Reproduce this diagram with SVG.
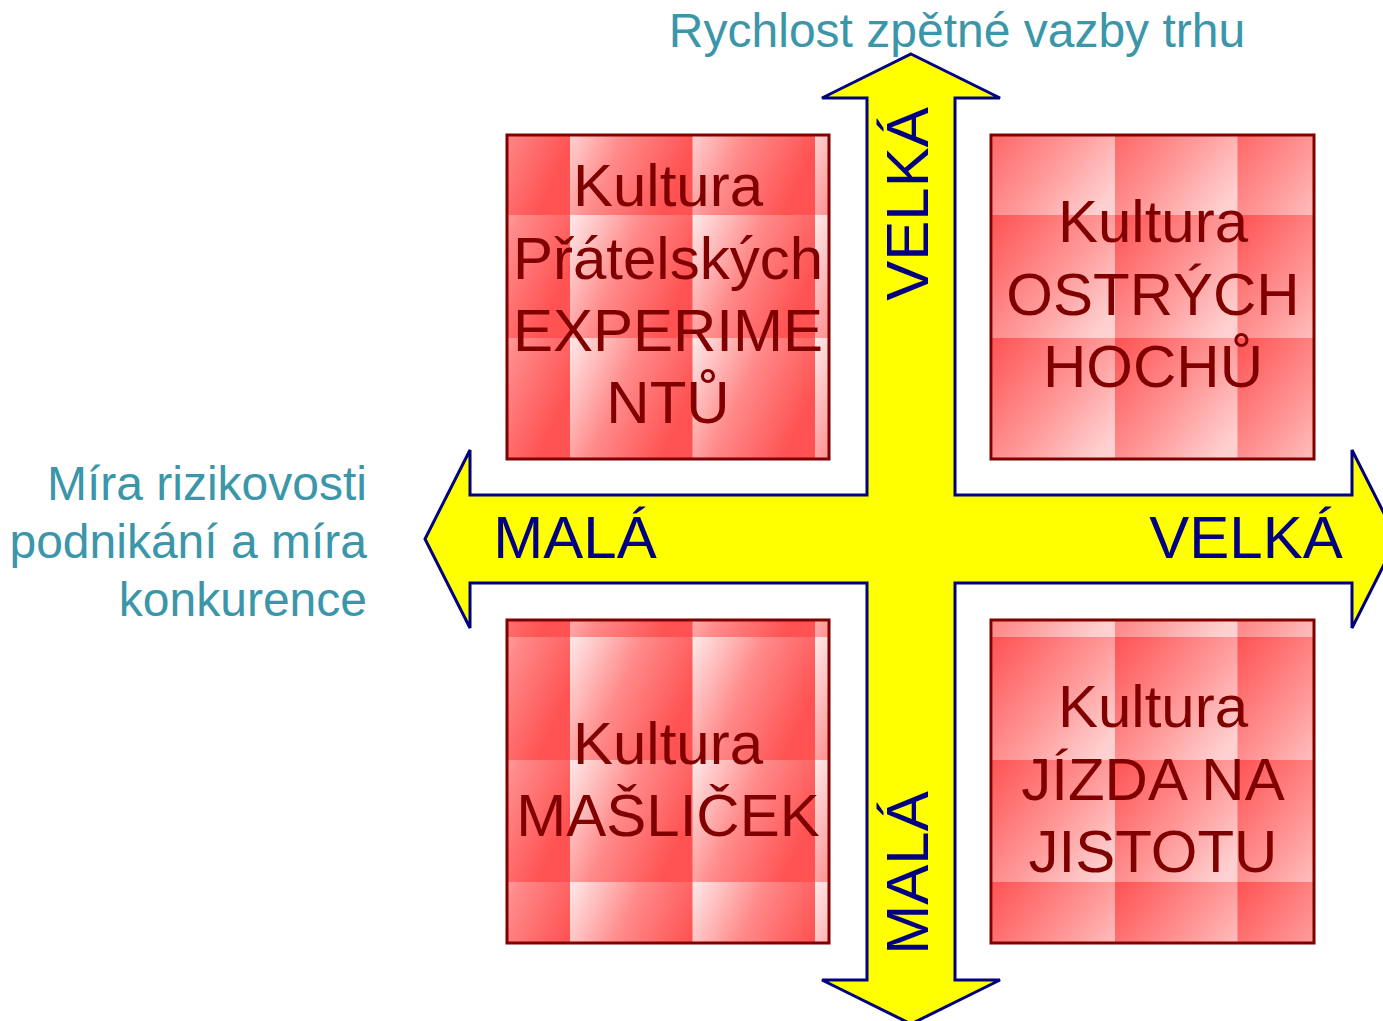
<svg xmlns="http://www.w3.org/2000/svg" width="1383" height="1021" viewBox="0 0 1383 1021">
<style>
.axis{font-family:"Liberation Sans",Arial,sans-serif;font-size:48px;fill:#3b96aa}
.lbl{font-family:"Liberation Sans",Arial,sans-serif;font-size:60px;fill:#000080}
.box{stroke:#800000;stroke-width:3}
.bt{font-family:"Liberation Sans",Arial,sans-serif;font-size:60px;fill:#800000;text-anchor:middle}
</style>
<defs>
<linearGradient id="gA" x1="0" y1="0" x2="1" y2="0.45">
<stop offset="0" stop-color="#ffeaea"/>
<stop offset="0.5" stop-color="#ff8a8a"/>
<stop offset="1" stop-color="#ff5252"/>
</linearGradient>
<linearGradient id="gB" x1="0" y1="0" x2="1" y2="0.8">
<stop offset="0" stop-color="#ff5252"/>
<stop offset="0.6" stop-color="#ff9a9a"/>
<stop offset="1" stop-color="#ffd0d0"/>
</linearGradient>
<pattern id="pTL" patternUnits="userSpaceOnUse" x="570" y="215" width="122.5" height="122"><rect width="122.5" height="122" fill="url(#gA)"/></pattern>
<pattern id="pBL" patternUnits="userSpaceOnUse" x="570" y="637" width="122.5" height="122"><rect width="122.5" height="122" fill="url(#gA)"/></pattern>
<pattern id="pTR" patternUnits="userSpaceOnUse" x="1115" y="215" width="122.5" height="122"><rect width="122.5" height="122" fill="url(#gB)"/></pattern>
<pattern id="pBR" patternUnits="userSpaceOnUse" x="1115" y="637" width="122.5" height="122"><rect width="122.5" height="122" fill="url(#gB)"/></pattern>
</defs>
<rect width="1383" height="1021" fill="#ffffff"/>
<g id="connectors">
<path id="cross" d="M911,54 L1000,98 L955,98 L955,495 L1352,495 L1352,450 L1397,539 L1352,628 L1352,583 L955,583 L955,980 L1000,980 L911,1024 L822,980 L867,980 L867,583 L470,583 L470,628 L425,539 L470,450 L470,495 L867,495 L867,98 L822,98 Z" fill="#ffff00" stroke="#000080" stroke-width="3" stroke-linejoin="miter"/>
<text class="lbl" x="575" y="558" text-anchor="middle">MALÁ</text>
<text class="lbl" x="1246" y="558" text-anchor="middle">VELKÁ</text>
<text class="lbl" text-anchor="middle" transform="translate(928,204) rotate(-90)">VELKÁ</text>
<text class="lbl" text-anchor="middle" transform="translate(928,873) rotate(-90)">MALÁ</text>
</g>
<g id="axis-labels">
<text class="axis" x="957" y="47" text-anchor="middle">Rychlost zpětné vazby trhu</text>
<text class="axis" text-anchor="end"><tspan x="367" y="500">Míra rizikovosti</tspan><tspan x="367" y="558">podnikání a míra</tspan><tspan x="367" y="616">konkurence</tspan></text>
</g>
<g id="node-tl">
<rect class="box" x="507" y="135" width="322" height="324" fill="url(#pTL)"/>
<text class="bt"><tspan x="668" y="206">Kultura</tspan><tspan x="668" y="279">Přátelských</tspan><tspan x="668" y="351">EXPERIME</tspan><tspan x="668" y="423">NTŮ</tspan></text>
</g>
<g id="node-tr">
<rect class="box" x="991" y="135" width="323" height="324" fill="url(#pTR)"/>
<text class="bt"><tspan x="1153" y="242">Kultura</tspan><tspan x="1153" y="315">OSTRÝCH</tspan><tspan x="1153" y="387">HOCHŮ</tspan></text>
</g>
<g id="node-bl">
<rect class="box" x="507" y="620" width="322" height="323" fill="url(#pBL)"/>
<text class="bt"><tspan x="668" y="764">Kultura</tspan><tspan x="668" y="836">MAŠLIČEK</tspan></text>
</g>
<g id="node-br">
<rect class="box" x="991" y="620" width="323" height="323" fill="url(#pBR)"/>
<text class="bt"><tspan x="1153" y="727">Kultura</tspan><tspan x="1153" y="800">JÍZDA NA</tspan><tspan x="1153" y="872">JISTOTU</tspan></text>
</g>
</svg>
